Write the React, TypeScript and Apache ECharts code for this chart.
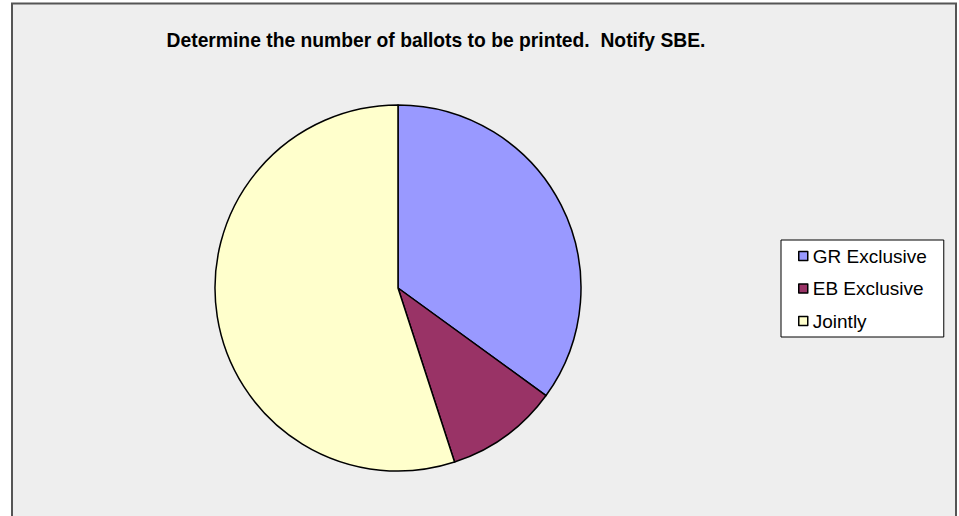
import React, { useEffect, useRef } from "react";
import * as echarts from "echarts";

const titleText = "Determine the number of ballots to be printed.  Notify SBE.";
const categories = ["GR Exclusive", "EB Exclusive", "Jointly"];
const values = [35, 10, 55];
const colors = ["#9999FF", "#993366", "#FFFFCC"];

export default function App() {
  const ref = useRef<HTMLDivElement>(null);
  useEffect(() => {
    document.body.style.margin = "0";
    const chart = echarts.init(ref.current!, null, { renderer: "svg" });
    chart.setOption({
      animation: false,
      backgroundColor: "#FFFFFF",
      graphic: [
        {
          type: "rect",
          z: -10,
          silent: true,
          shape: { x: 12, y: 3.5, width: 944, height: 530 },
          style: { fill: "#EEEEEE", stroke: "#555555", lineWidth: 2 },
        },
      ],
      title: {
        text: titleText,
        left: 431,
        textAlign: "center",
        top: 26,
        textStyle: {
          fontFamily: "Liberation Sans, Arial, sans-serif",
          fontWeight: "bold",
          fontSize: 19.3,
          color: "#000000",
        },
      },
      legend: {
        orient: "vertical",
        left: 781,
        top: 240,
        padding: [6, 17, 6, 17],
        itemGap: 12.5,
        itemWidth: 9,
        itemHeight: 9,
        icon: "rect",
        borderColor: "#000000",
        borderWidth: 1,
        backgroundColor: "#FFFFFF",
        data: categories,
        textStyle: {
          fontFamily: "Liberation Sans, Arial, sans-serif",
          fontSize: 19,
          lineHeight: 20,
          color: "#000000",
        },
        itemStyle: { borderColor: "#000000", borderWidth: 1.5 },
      },
      series: [
        {
          type: "pie",
          center: [398, 288],
          radius: 183,
          startAngle: 90,
          clockwise: true,
          label: { show: false },
          labelLine: { show: false },
          emphasis: { disabled: true },
          itemStyle: { borderColor: "#000000", borderWidth: 1.5 },
          data: categories.map((name, i) => ({
            name,
            value: values[i],
            itemStyle: { color: colors[i] },
          })),
        },
      ],
    });
    return () => chart.dispose();
  }, []);
  return <div ref={ref} style={{ width: 959, height: 516 }} />;
}
